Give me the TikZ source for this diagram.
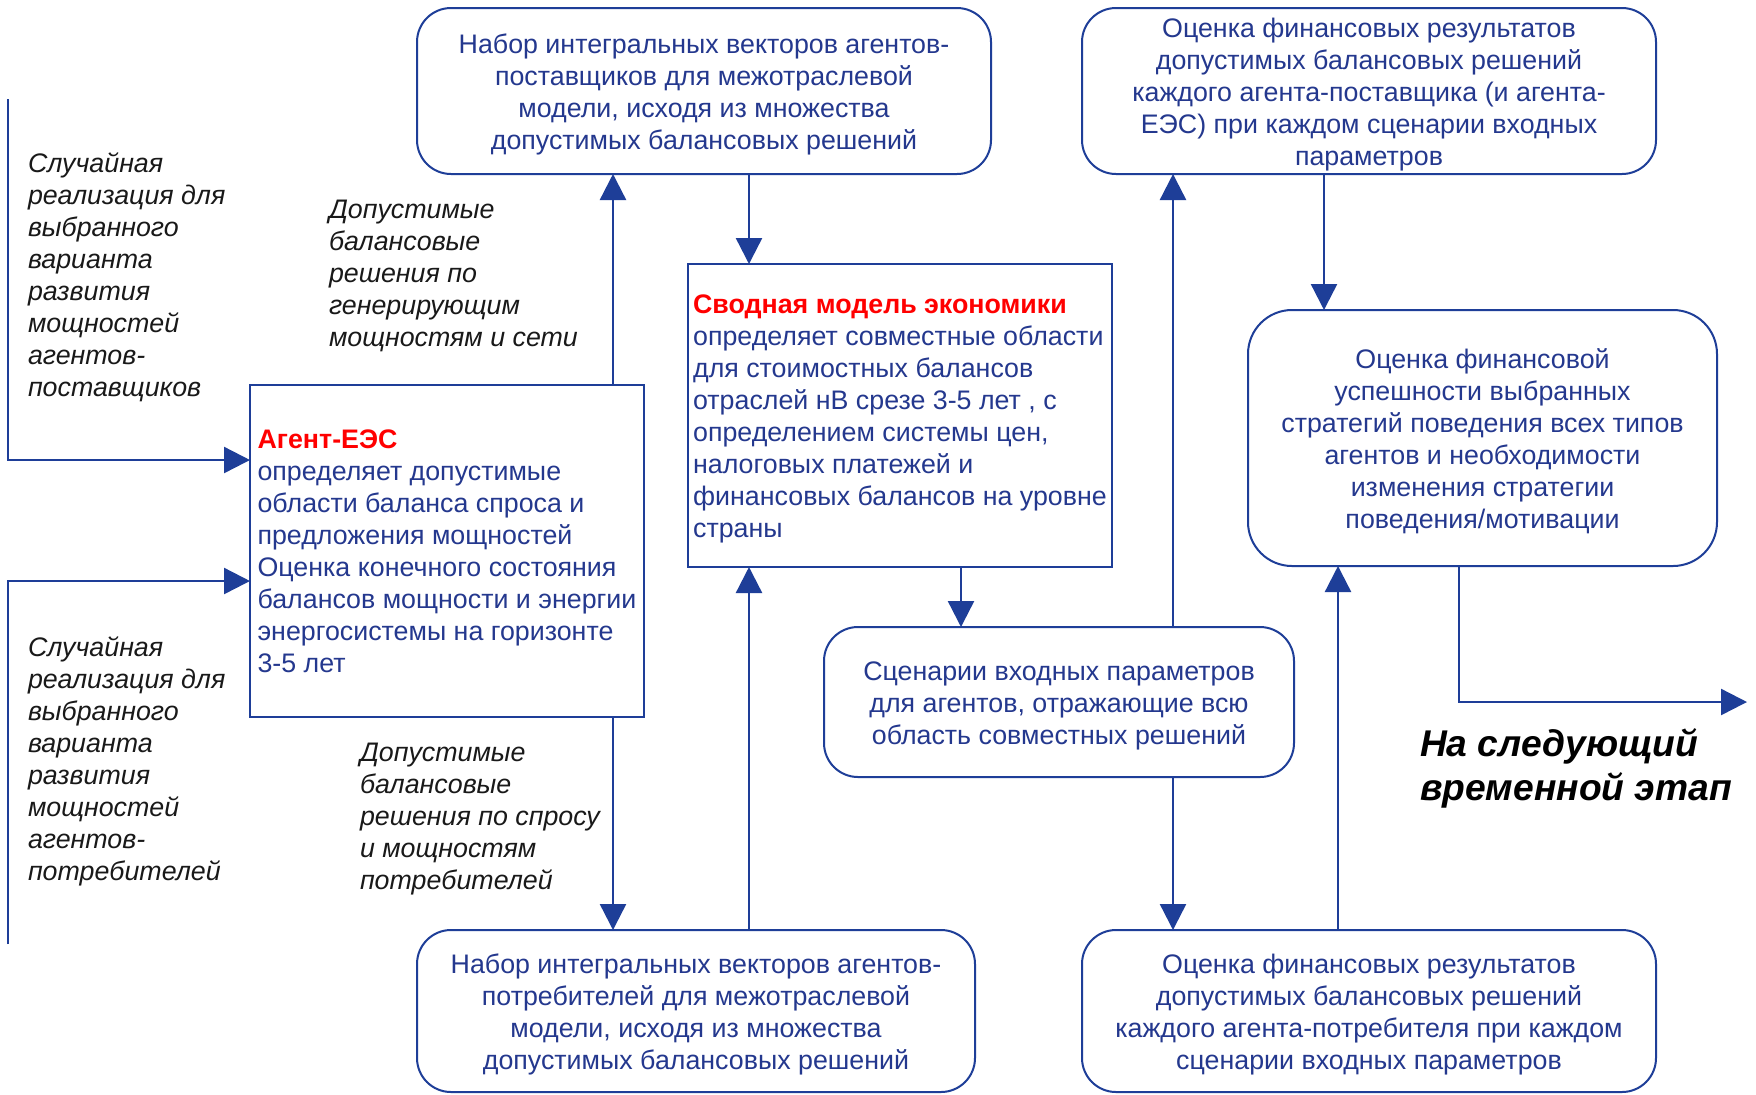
\documentclass[tikz,border=0pt]{standalone}
\usepackage{fontspec}
\setmainfont{Liberation Sans}
\usetikzlibrary{arrows.meta,calc}
\definecolor{navy}{RGB}{36,56,142}
\definecolor{lineblue}{RGB}{30,62,152}
\definecolor{titlered}{RGB}{255,0,0}
\newcommand{\tpad}{\rule{0pt}{13pt}}
\begin{document}
\begin{tikzpicture}[x=0.5pt,y=-0.5pt,
  every node/.style={inner sep=0pt, outer sep=0pt, font=\fontsize{13.4}{16}\selectfont},
  rbox/.style={draw=lineblue, line width=1pt, rounded corners=17pt, align=center, text=navy},
  sbox/.style={draw=lineblue, line width=1pt, align=left, text=navy},
  lbl/.style={align=left, anchor=west, font=\fontsize{13.4}{16}\selectfont\itshape, text=black!90},
  arr/.style={draw=lineblue, line width=1.2pt, -{Triangle[width=13pt,length=13pt]}},
  ln/.style={draw=lineblue, line width=1.2pt}]
\useasboundingbox[fill=white] (0,0) rectangle (1756,1094);

% boxes
\node[rbox, minimum width=287pt, minimum height=83pt] (tl) at (704,91)
  {\tpad Набор интегральных векторов агентов-\\поставщиков для межотраслевой\\модели, исходя из множества\\допустимых балансовых решений};
\node[rbox, minimum width=287pt, minimum height=83pt] (tr) at (1369,91)
  {\tpad Оценка финансовых результатов\\допустимых балансовых решений\\каждого агента-поставщика (и агента-\\ЕЭС) при каждом сценарии входных\\параметров};
\node[sbox, minimum width=197pt, minimum height=166pt] (agent) at (447,551)
  {\textcolor{titlered}{\bfseries Агент-ЕЭС}\\определяет допустимые\\области баланса спроса и\\предложения мощностей\\Оценка конечного состояния\\балансов мощности и энергии\\энергосистемы на горизонте\\3-5 лет};
\node[sbox, minimum width=212pt, minimum height=151.5pt] (svod) at (900,415.5)
  {\tpad\textcolor{titlered}{\bfseries Сводная модель экономики}\\определяет совместные области\\для стоимостных балансов\\отраслей нВ срезе 3-5 лет , с\\определением системы цен,\\налоговых платежей и\\финансовых балансов на уровне\\страны};
\node[rbox, minimum width=235pt, minimum height=75pt] (scen) at (1059,702)
  {\tpad Сценарии входных параметров\\для агентов, отражающие всю\\область совместных решений};
\node[rbox, rounded corners=22pt, minimum width=234.5pt, minimum height=128pt] (rm) at (1482.5,438)
  {\tpad Оценка финансовой\\успешности выбранных\\стратегий поведения всех типов\\агентов и необходимости\\изменения стратегии\\поведения/мотивации};
\node[rbox, minimum width=279pt, minimum height=81pt] (bl) at (696,1011)
  {\tpad Набор интегральных векторов агентов-\\потребителей для межотраслевой\\модели, исходя из множества\\допустимых балансовых решений};
\node[rbox, minimum width=287pt, minimum height=81pt] (br) at (1369,1011)
  {\tpad Оценка финансовых результатов\\допустимых балансовых решений\\каждого агента-потребителя при каждом\\сценарии входных параметров};

% labels
\node[lbl] (lt1) at (28,277) {Случайная\\реализация для\\выбранного\\варианта\\развития\\мощностей\\агентов-\\поставщиков};
\node[lbl] (lt2) at (28,761) {Случайная\\реализация для\\выбранного\\варианта\\развития\\мощностей\\агентов-\\потребителей};
\node[lbl] (lg1) at (329,276) {Допустимые\\балансовые\\решения по\\генерирующим\\мощностям и сети};
\node[lbl] (lg2) at (360,819) {Допустимые\\балансовые\\решения по спросу\\и мощностям\\потребителей};
\node[lbl, font=\fontsize{18.6}{22}\selectfont\bfseries\itshape, text=black] (next) at (1420,768) {На следующий\\временной этап};

% helper coordinates
\coordinate (xa) at (613,0);
\coordinate (xb) at (749,0);
\coordinate (xc) at (961,0);
\coordinate (xd) at (1173,0);
\coordinate (xe) at (1324,0);
\coordinate (xf) at (1338,0);
\coordinate (xg) at (1459,0);
\coordinate (l1) at (8,99);
\coordinate (l2) at (8,944);
\coordinate (y1) at (0,460);
\coordinate (y2) at (0,581);
\coordinate (ne) at (1747,702);

% connectors
\draw[arr] (l1) |- (agent.west |- y1);
\draw[arr] (l2) |- (agent.west |- y2);
\draw[arr] (agent.north -| xa) -- (tl.south -| xa);
\draw[arr] (agent.south -| xa) -- (bl.north -| xa);
\draw[arr] (tl.south -| xb) -- (svod.north -| xb);
\draw[arr] (bl.north -| xb) -- (svod.south -| xb);
\draw[arr] (svod.south -| xc) -- (scen.north -| xc);
\draw[arr] (scen.north -| xd) -- (tr.south -| xd);
\draw[arr] (scen.south -| xd) -- (br.north -| xd);
\draw[arr] (tr.south -| xe) -- (rm.north -| xe);
\draw[arr] (br.north -| xf) -- (rm.south -| xf);
\draw[arr] (rm.south -| xg) |- (ne);
\end{tikzpicture}
\end{document}
